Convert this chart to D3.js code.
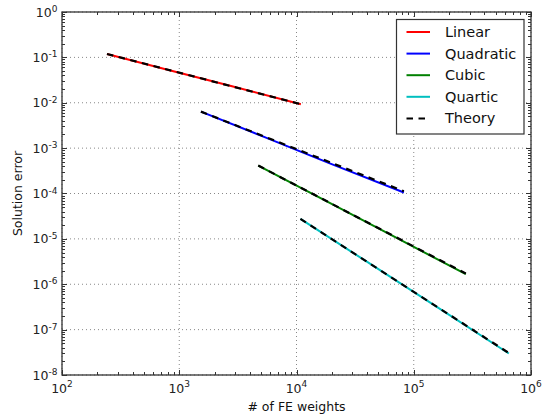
<!DOCTYPE html>
<html><head><meta charset="utf-8">
<script src="https://cdn.jsdelivr.net/npm/d3@7"></script>
<style>body{margin:0;background:#fff}svg{display:block;font-family:"DejaVu Sans",sans-serif}</style>
</head><body><svg id="c" width="542" height="419"></svg>
<script>
// Data
const seriesNames = ["Linear", "Quadratic", "Cubic", "Quartic"];
const seriesColors = ["#ff0000", "#0000ff", "#008000", "#00bfbf"];
const linearN = [242, 794, 2818, 10900];
const linearE = [0.119, 0.0536, 0.0230, 0.00927];
const quadN = [1531, 5623, 19950, 82400];
const quadE = [6.37e-3, 1.66e-3, 4.45e-4, 1.05e-4];
const cubicN = [4720, 17800, 70800, 278000];
const cubicE = [4.12e-4, 6.87e-5, 1.06e-5, 1.67e-6];
const quarticN = [10800, 39800, 158500, 647000];
const quarticE = [2.76e-5, 3.14e-6, 3.12e-7, 2.98e-8];
// Theory lines: endpoints [N, E]
const theoryLinear = [[242, 0.119], [10900, 0.00927]];
const theoryQuad = [[1531, 6.37e-3], [82400, 1.12e-4]];
const theoryCubic = [[4720, 4.12e-4], [278000, 1.72e-6]];
const theoryQuartic = [[10800, 2.76e-5], [647000, 3.05e-8]];
const xTickExps = [2, 3, 4, 5, 6];
const yTickExps = [0, -1, -2, -3, -4, -5, -6, -7, -8];

const svg = d3.select("#c");
const L = 62, R = 531, T = 12, B = 375;
const x = d3.scaleLog().domain([1e2, 1e6]).range([L, R]);
const y = d3.scaleLog().domain([1e-8, 1]).range([B, T]);

const series = [
  [linearN, linearE], [quadN, quadE], [cubicN, cubicE], [quarticN, quarticE]
].map((s, i) => ({name: seriesNames[i], color: seriesColors[i], pts: s[0].map((n, j) => [n, s[1][j]])}));
const theory = [theoryLinear, theoryQuad, theoryCubic, theoryQuartic];

// grid
const g = svg.append("g");
xTickExps.forEach(e => {
  const px = x(Math.pow(10, e));
  g.append("line").attr("x1", px).attr("x2", px).attr("y1", T).attr("y2", B)
   .attr("stroke", "#888").attr("stroke-width", 1).attr("stroke-dasharray", "1,3");
});
yTickExps.forEach(e => {
  const py = y(Math.pow(10, e));
  g.append("line").attr("x1", L).attr("x2", R).attr("y1", py).attr("y2", py)
   .attr("stroke", "#888").attr("stroke-width", 1).attr("stroke-dasharray", "1,3");
});

// ticks (inward, all four sides)
const tk = svg.append("g").attr("stroke", "#333").attr("stroke-width", 1);
for (let e = 2; e <= 6; e++) {
  for (let m = 1; m <= 9; m++) {
    if (e === 6 && m > 1) break;
    const v = m * Math.pow(10, e);
    const px = Math.round(x(v)) + 0.5;
    const len = m === 1 ? 5 : 3;
    tk.append("line").attr("x1", px).attr("x2", px).attr("y1", B).attr("y2", B - len);
    tk.append("line").attr("x1", px).attr("x2", px).attr("y1", T).attr("y2", T + len);
  }
}
for (let e = -8; e <= 0; e++) {
  for (let m = 1; m <= 9; m++) {
    if (e === 0 && m > 1) break;
    const v = m * Math.pow(10, e);
    const py = Math.round(y(v)) + 0.5;
    const len = m === 1 ? 5 : 3;
    tk.append("line").attr("y1", py).attr("y2", py).attr("x1", L).attr("x2", L + len);
    tk.append("line").attr("y1", py).attr("y2", py).attr("x1", R).attr("x2", R - len);
  }
}

// data lines
const line = d3.line().x(d => x(d[0])).y(d => y(d[1]));
series.forEach(s => {
  svg.append("path").attr("d", line(s.pts)).attr("fill", "none")
    .attr("stroke", s.color).attr("stroke-width", 2);
});
theory.forEach(t => {
  svg.append("path").attr("d", line(t)).attr("fill", "none")
    .attr("stroke", "#000").attr("stroke-width", 2.2).attr("stroke-dasharray", "6.5,5.5");
});

// frame
svg.append("rect").attr("x", L).attr("y", T).attr("width", R - L).attr("height", B - T)
  .attr("fill", "none").attr("stroke", "#333").attr("stroke-width", 1.3);

// tick labels
xTickExps.forEach(e => {
  const t = svg.append("text").attr("x", x(Math.pow(10, e))).attr("y", 393)
    .attr("text-anchor", "middle").attr("fill", "#222").attr("font-size", 12.5);
  t.append("tspan").text("10");
  t.append("tspan").attr("font-size", 9).attr("dy", -6).text(String(e));
});
yTickExps.forEach(e => {
  const t = svg.append("text").attr("x", 57.5).attr("y", y(Math.pow(10, e)) + 4.5)
    .attr("text-anchor", "end").attr("fill", "#222").attr("font-size", 12.5);
  t.append("tspan").text("10");
  t.append("tspan").attr("font-size", 9).attr("dy", -4.5).text(String(e));
});

// axis titles
svg.append("text").attr("x", (L + R) / 2).attr("y", 411).attr("text-anchor", "middle")
  .attr("font-size", 12.5).attr("fill", "#111").text("# of FE weights");
svg.append("text").attr("transform", `translate(22,${(T + B) / 2}) rotate(-90)`)
  .attr("text-anchor", "middle").attr("font-size", 12.5).attr("fill", "#111").text("Solution error");

// legend
const lg = svg.append("g");
lg.append("rect").attr("x", 396.5).attr("y", 19.5).attr("width", 127.5).attr("height", 114.5)
  .attr("fill", "#fff").attr("stroke", "#333").attr("stroke-width", 1.2);
const entries = series.map(s => ({name: s.name, color: s.color, dash: null}))
  .concat([{name: "Theory", color: "#000", dash: "6.5,5.5"}]);
entries.forEach((en, i) => {
  const yy = 32 + i * 21.6;
  lg.append("line").attr("x1", 406.5).attr("x2", 430).attr("y1", yy).attr("y2", yy)
    .attr("stroke", en.color).attr("stroke-width", 2).attr("stroke-dasharray", en.dash);
  lg.append("text").attr("x", 445).attr("y", yy + 5).attr("font-size", 14.5)
    .attr("fill", "#111").text(en.name);
});
</script></body></html>
